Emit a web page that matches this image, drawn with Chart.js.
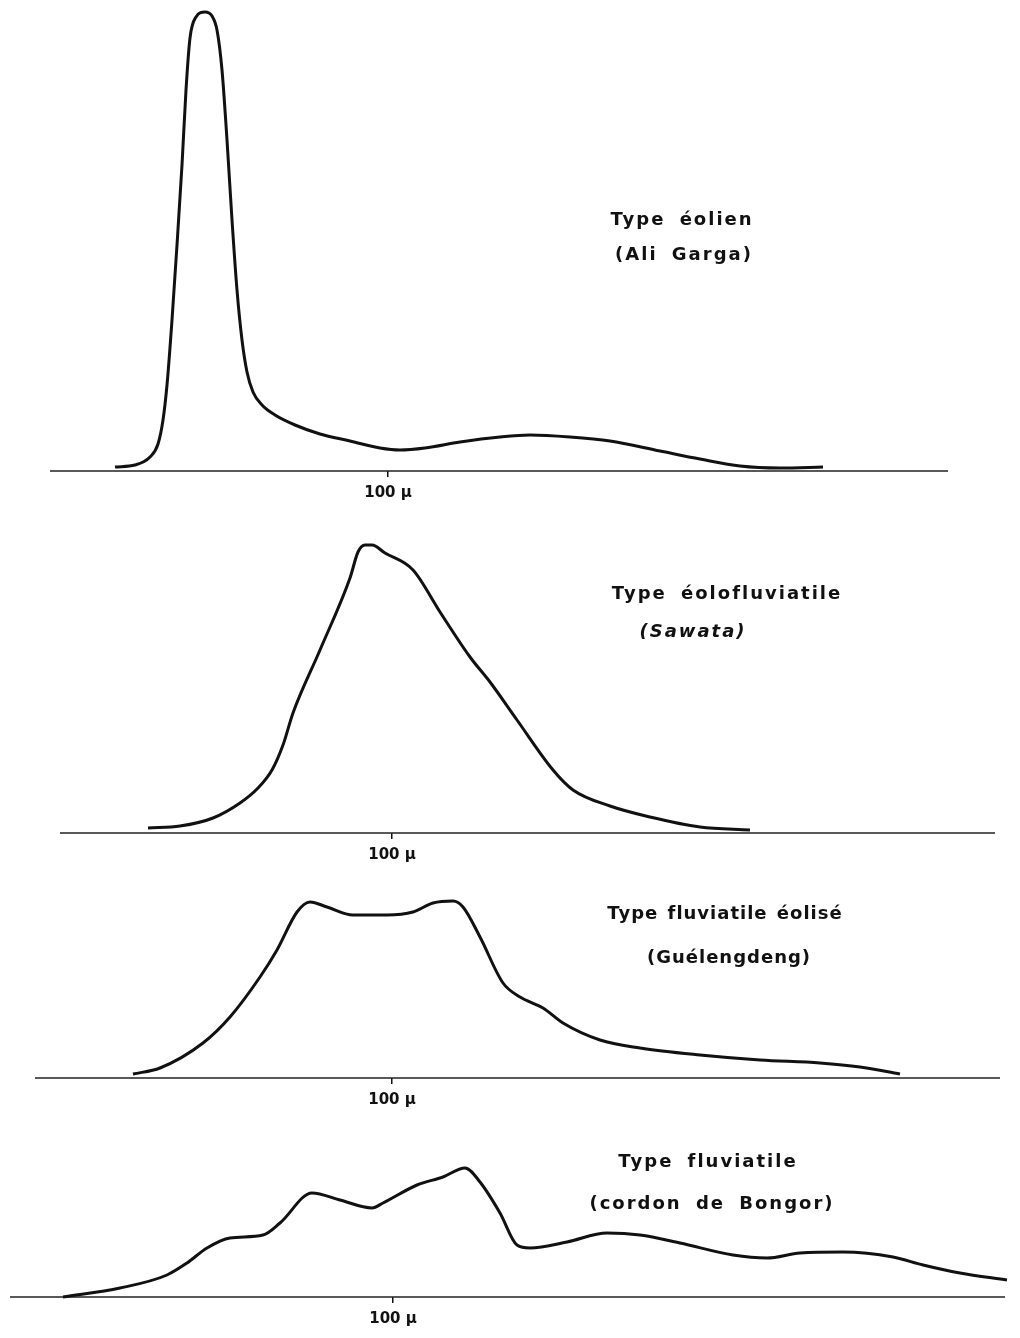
<!DOCTYPE html>
<html>
<head>
<meta charset="utf-8">
<script src="https://cdn.jsdelivr.net/npm/chart.js@4.4.1/dist/chart.umd.min.js"></script>
<style>
  body { margin: 0; background: #fff; }
  #page { position: relative; width: 1020px; height: 1338px; overflow: hidden; }
  canvas { position: absolute; left: 0; }
  .lbl {
    position: absolute; transform: translate(-50%, -50%); white-space: nowrap;
    font-family: 'DejaVu Sans', sans-serif; font-weight: bold; font-size: 18px;
    color: #111; letter-spacing: 2px; word-spacing: 6px;
  }
</style>
</head>
<body>
<div id="page">
  <canvas id="c1" width="1020" height="511" style="top:0px"></canvas>
  <canvas id="c2" width="1020" height="340" style="top:533px"></canvas>
  <canvas id="c3" width="1020" height="240" style="top:878px"></canvas>
  <canvas id="c4" width="1020" height="200" style="top:1137px"></canvas>

  <div class="lbl" style="left:682px; top:218px">Type éolien</div>
  <div class="lbl" style="left:684px; top:253px">(Ali Garga)</div>
  <div class="lbl" style="left:727px; top:592px">Type éolofluviatile</div>
  <div class="lbl" style="left:693px; top:630px; font-style:italic">(Sawata)</div>
  <div class="lbl" style="left:725px; top:912px; letter-spacing:1px; word-spacing:2px">Type fluviatile éolisé</div>
  <div class="lbl" style="left:729px; top:956px; letter-spacing:1px">(Guélengdeng)</div>
  <div class="lbl" style="left:708px; top:1160px">Type fluviatile</div>
  <div class="lbl" style="left:712px; top:1202px">(cordon de Bongor)</div>
</div>
<script>
// grain size axis (arbitrary units), frequency (arbitrary units)
const tickLabel = '100 µ';
const tickAt = [38.8, 39.2, 39.2, 39.3];
const axisFrom = [5, 6, 3.5, 1];
const axisTo = [94.8, 99.5, 100, 100.5];
const yMax = [47.1, 30, 20, 16];

// Type éolien (Ali Garga)
const eolienX = [11.5, 13.5, 15, 15.8, 16.3, 16.7, 17.2, 17.7, 18.2, 18.6, 19, 19.6, 20.5, 21.2, 21.7, 22.2, 22.7, 23.2, 23.7, 24.2,
  24.7, 25.3, 26.2, 27.5, 29.5, 32, 35, 38, 40, 42.5, 46, 50, 53, 57, 61, 66, 70, 74, 78, 82.3];
const eolienY = [0.4, 0.6, 1.4, 2.7, 5.1, 8.6, 15.1, 22.6, 30.6, 38.1, 43.3, 45.4, 45.9, 45.5, 44.1, 40.1, 33.1, 25.1, 18.1, 13.1,
  9.9, 7.9, 6.6, 5.6, 4.6, 3.7, 3.0, 2.3, 2.1, 2.3, 2.9, 3.4, 3.6, 3.4, 3.0, 2.0, 1.2, 0.5, 0.3, 0.4];

// Type éolofluviatile (Sawata)
const sawataX = [14.8, 18, 21.3, 24, 25.8, 27.2, 28.3, 29.3, 32, 35, 35.8, 36.5, 37.2, 38.5, 41.3, 44, 47, 49,
  51.7, 55.3, 57.3, 61, 65, 70, 75];
const sawataY = [0.5, 0.7, 1.5, 3.0, 4.5, 6.3, 8.8, 12.0, 18.3, 25.5, 28.1, 28.8, 28.8, 28.0, 26.3, 22.1, 17.6, 15.1,
  11.3, 6.3, 4.3, 2.7, 1.6, 0.6, 0.3];

// Type fluviatile éolisé (Guélengdeng)
const guelX = [13.3, 16, 20.3, 23, 26, 27.7, 29.7, 31, 32.7, 35.3, 38.7, 41.3, 43.3, 45.3, 46.3, 48, 50.3, 52, 54.3, 56.3,
  60, 64, 70, 76, 82, 86, 90];
const guelY = [0.4, 1.0, 3.5, 6.1, 10.1, 12.8, 16.6, 17.6, 17.1, 16.3, 16.3, 16.6, 17.5, 17.7, 17.1, 14.1, 9.5, 8.1, 7.0, 5.5,
  3.8, 3.0, 2.3, 1.8, 1.5, 1.1, 0.4];

// Type fluviatile (cordon de Bongor)
const bongorX = [6.3, 12, 16.7, 18.7, 20.7, 23, 26.3, 28, 31.2, 34, 37.2, 38.3, 41.7, 44.3, 46.5, 48, 50, 51.7, 53, 56.7,
  60.7, 64, 68, 73.3, 76.7, 80, 84.3, 89.3, 92.3, 96, 100.7];
const bongorY = [0, 0.9, 2.2, 3.4, 4.9, 5.9, 6.2, 7.4, 10.4, 9.7, 8.9, 9.4, 11.2, 12.0, 12.9, 11.5, 8.4, 5.2, 4.9, 5.5,
  6.4, 6.2, 5.4, 4.2, 3.9, 4.4, 4.5, 4.0, 3.2, 2.4, 1.7];

const curvesX = [eolienX, sawataX, guelX, bongorX];
const curvesY = [eolienY, sawataY, guelY, bongorY];

function pairs(xs, ys) {
  return xs.map((x, i) => ({ x: x, y: ys[i] }));
}

['c1', 'c2', 'c3', 'c4'].forEach((id, i) => {
  const ctx = document.getElementById(id).getContext('2d');
  new Chart(ctx, {
    type: 'line',
    data: {
      datasets: [{
        data: pairs(curvesX[i], curvesY[i]),
        borderColor: '#111',
        borderWidth: 3,
        pointRadius: 0,
        cubicInterpolationMode: 'monotone',
        fill: false,
        clip: false
      }, {
        data: [{ x: axisFrom[i], y: 0 }, { x: axisTo[i], y: 0 }],
        borderColor: '#222',
        borderWidth: 1.6,
        pointRadius: 0,
        fill: false,
        clip: false
      }]
    },
    options: {
      responsive: false,
      animation: false,
      events: [],
      layout: { padding: 0 },
      plugins: { legend: { display: false }, tooltip: { enabled: false } },
      scales: {
        x: {
          type: 'linear',
          min: 0,
          max: 102,
          border: { display: false },
          grid: { drawOnChartArea: false, tickLength: 6, color: '#111', lineWidth: 1.5 },
          afterBuildTicks: s => { s.ticks = [{ value: tickAt[i] }]; },
          afterFit: s => { s.height = 40; },
          ticks: {
            callback: () => tickLabel,
            color: '#111',
            padding: 7,
            maxRotation: 0,
            autoSkip: false,
            font: { family: 'DejaVu Sans', size: 15, weight: 'bold' }
          }
        },
        y: { display: false, min: 0, max: yMax[i] }
      }
    }
  });
});
</script>
</body>
</html>
